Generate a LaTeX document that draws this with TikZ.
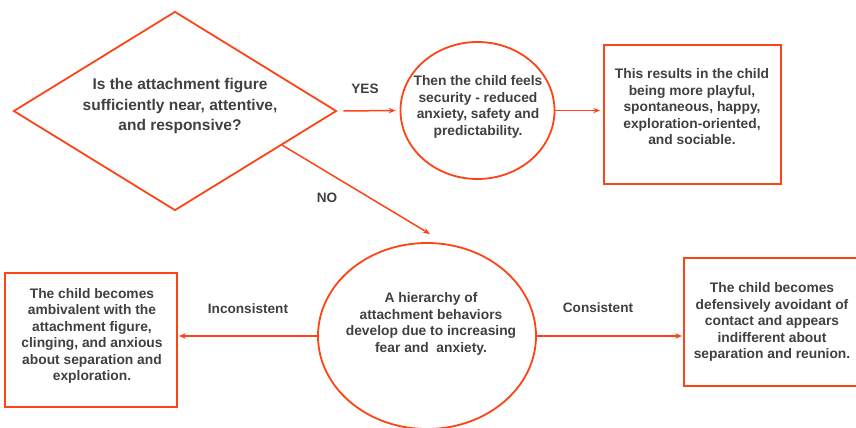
\documentclass[tikz,border=0pt]{standalone}
\usepackage{fontspec}
\setmainfont{Liberation Sans}
\usetikzlibrary{shapes.geometric,arrows.meta,calc}
\definecolor{lineor}{HTML}{FC4416}
\definecolor{txtgray}{HTML}{404040}
\begin{document}
\begin{tikzpicture}[x=1pt,y=-1pt,
  shapeline/.style={draw=lineor, line width=1.8pt},
  boxnode/.style={shapeline, rectangle, inner sep=0pt},
  ellnode/.style={shapeline, ellipse, inner sep=0pt},
  bodytext/.style={text=txtgray, align=center, inner sep=0pt, font=\bfseries\fontsize{13.8}{16.5}\selectfont},
  bigtext/.style={text=txtgray, align=center, inner sep=0pt, font=\bfseries\fontsize{15.5}{20.5}\selectfont},
  lbl/.style={text=txtgray, inner sep=0pt, font=\bfseries\fontsize{13.6}{16}\selectfont},
  conn/.style={draw=lineor, line width=1.5pt, -{Stealth[length=7pt,width=5.5pt,inset=2.5pt]}}
]
\useasboundingbox (0,0) rectangle (856,428);
\clip (0,0) rectangle (856,428);
% shapes
\node[shapeline, diamond, inner sep=0pt, minimum width=323pt, minimum height=199pt] (d) at (175,111) {};
\node[ellnode, minimum width=154pt, minimum height=137pt] (c1) at (477.5,110.5) {};
\node[boxnode, minimum width=177pt, minimum height=139pt] (r2) at (692.5,114.5) {};
\node[ellnode, minimum width=218pt, minimum height=186pt] (c2) at (427,336) {};
\node[boxnode, minimum width=172pt, minimum height=134pt] (r3) at (91,340) {};
\node[boxnode, minimum width=176pt, minimum height=128pt] (r4) at (772,322) {};
% texts
\node[bigtext] (t1) at (180,106) {Is the attachment figure\\sufficiently near, attentive,\\and responsive?};
\node[bodytext] (t2) at (478,107) {Then the child feels\\security - reduced\\anxiety, safety and\\predictability.};
\node[bodytext] (t3) at (692,107) {This results in the child\\being more playful,\\spontaneous, happy,\\exploration-oriented,\\and sociable.};
\node[bodytext] (t4) at (431,324) {A hierarchy of\\attachment behaviors\\develop due to increasing\\fear and\ \ anxiety.};
\node[bodytext] (t5) at (92,336) {The child becomes\\ambivalent with the\\attachment figure,\\clinging, and anxious\\about separation and\\exploration.};
\node[bodytext] (t6) at (772,322) {The child becomes\\defensively avoidant of\\contact and appears\\indifferent about\\separation and reunion.};
% labels
\node[lbl] (yes) at (365,89) {YES};
\node[lbl] (no) at (327,198) {NO};
\node[lbl] (inc) at (248,309) {Inconsistent};
\node[lbl] (con) at (598,308) {Consistent};
% connectors
\coordinate (nostart) at ($(d.east)!0.34!(d.south)$);
\coordinate (noend) at (430,234);
\draw[conn, shorten <=6pt, shorten >=4pt] (d.east) -- (c1.west);
\draw[conn] (nostart) -- (noend);
\draw[conn, shorten >=3pt] (c1.east) -- (c1.east -| r2.west);
\draw[conn, shorten >=1pt] (c2.west) -- (c2.west -| r3.east);
\draw[conn, shorten >=1pt] (c2.east) -- (c2.east -| r4.west);
\end{tikzpicture}
\end{document}
